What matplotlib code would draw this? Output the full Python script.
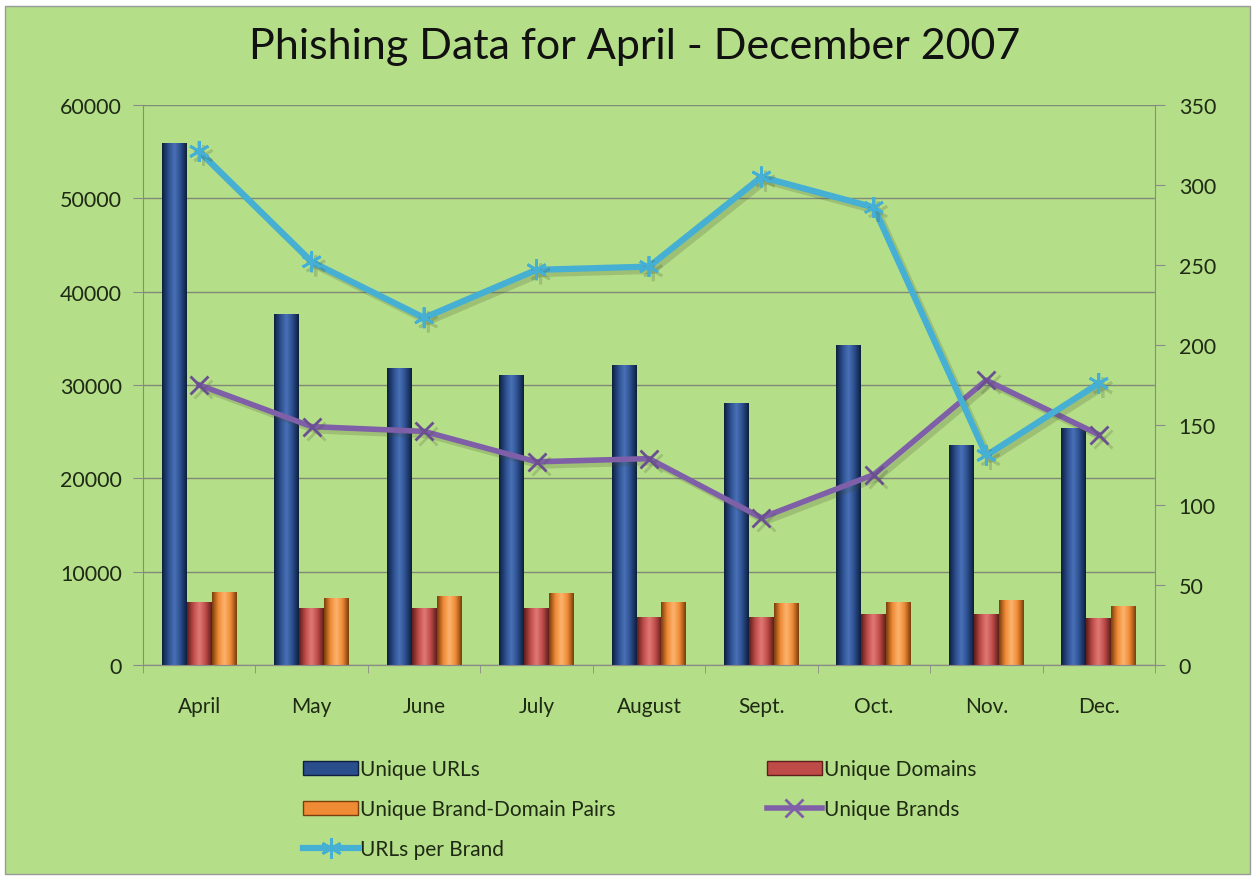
import numpy as np
import matplotlib.pyplot as plt
import matplotlib.patheffects as pe
from matplotlib.colors import LinearSegmentedColormap
from matplotlib.patches import Rectangle, Patch
from matplotlib.lines import Line2D

plt.rcParams['font.family'] = ['Lato', 'DejaVu Sans']

# Monthly phishing figures
months = ['April', 'May', 'June', 'July', 'August', 'Sept.', 'Oct.', 'Nov.', 'Dec.']
unique_urls = [55900, 37600, 31800, 31100, 32100, 28100, 34300, 23600, 25400]
unique_domains = [6750, 6100, 6100, 6100, 5150, 5150, 5450, 5450, 5050]
brand_domain_pairs = [7800, 7200, 7400, 7700, 6750, 6650, 6750, 6950, 6300]
unique_brands = [175, 149, 146, 127, 129, 92, 119, 178, 144]
urls_per_brand = [321, 252, 217, 247, 249, 305, 286, 131, 176]

bg = '#b5de88'
grid_col = '#7f8a78'

fig = plt.figure(figsize=(12.55, 8.79), dpi=100)
fig.patch.set_facecolor('white')
fig.patches.append(Rectangle((5 / 1255, 4 / 879), 1245 / 1255, 868 / 879,
                             transform=fig.transFigure, facecolor=bg,
                             edgecolor='#9a9a9a', linewidth=1, zorder=-10))

ax = fig.add_axes([143 / 1255, 1 - 666 / 879, 1012 / 1255, 560 / 879])
ax.set_facecolor(bg)
ax2 = ax.twinx()

x = np.arange(len(months))
w = 0.222


def bevel_bars(axis, xpos, vals, dark, base, light):
    bars = axis.bar(xpos, vals, w, color=base, edgecolor='none', zorder=2)
    cmap = LinearSegmentedColormap.from_list('bev', [dark, base, light, base, dark])
    grad = np.linspace(0, 1, 64).reshape(1, -1)
    for b in bars:
        x0, y0 = b.get_x(), b.get_y()
        im = axis.imshow(grad, cmap=cmap, extent=[x0, x0 + b.get_width(), y0, y0 + b.get_height()],
                         aspect='auto', zorder=3, interpolation='bicubic')
        im.set_clip_path(b)
    return bars


bevel_bars(ax, x - w, unique_urls, '#0f1f3d', '#2a4d8c', '#4a72b8')
bevel_bars(ax, x, unique_domains, '#5e1e1c', '#bf4b48', '#e07a76')
bevel_bars(ax, x + w, brand_domain_pairs, '#7a3e0c', '#ef8a35', '#fbb46e')

ax.set_xlim(-0.5, len(months) - 0.5)
ax.set_ylim(0, 60000)
ax.set_yticks(np.arange(0, 60001, 10000))
ax.yaxis.grid(True, color=grid_col, linewidth=1)
ax.set_axisbelow(True)
ax.set_xticks(x)
ax.set_xticklabels(months)
ax.set_xticks(np.arange(-0.5, len(months) + 0.5, 1), minor=True)
ax.tick_params(axis='x', which='major', length=0, pad=22, labelsize=15, labelcolor='#1e2a14')
ax.tick_params(axis='x', which='minor', length=6, color='#8a8a8a')
ax.tick_params(axis='y', length=7, color='#8a8a8a', labelsize=15.5, labelcolor='#1e2a14', pad=8)

shadow = [pe.SimpleLineShadow(offset=(3, -3), alpha=0.2, shadow_color='#3d4a2a'), pe.Normal()]
ax2.plot(x, unique_brands, color='#7f5fa8', linewidth=4, marker='x', markersize=13,
         markeredgewidth=2, markeredgecolor='#6a5090', zorder=5, path_effects=shadow)
ax2.plot(x, urls_per_brand, color='#45b0d3', linewidth=4.5, marker=(6, 2, 0), markersize=15,
         markeredgewidth=2, markeredgecolor='#45b0d3', zorder=6, path_effects=shadow)
ax2.set_ylim(0, 350)
ax2.set_yticks(np.arange(0, 351, 50))
ax2.tick_params(axis='y', length=7, color='#8a8a8a', labelsize=15.5, labelcolor='#1e2a14', pad=10)

for a in (ax, ax2):
    a.spines['top'].set_visible(False)
    a.spines['left'].set_color('#8a8a8a')
    a.spines['right'].set_color('#8a8a8a')
    a.spines['bottom'].set_color('#8a8a8a')
ax.spines['right'].set_visible(False)
ax2.spines['left'].set_visible(False)

fig.text(0.506, 1 - 47 / 879, 'Phishing Data for April - December 2007', ha='center', va='center',
         fontsize=31, color='#111111')

handles = [
    Patch(facecolor='#2a4d8c', edgecolor='#0f1f3d', label='Unique URLs'),
    Patch(facecolor='#ef8a35', edgecolor='#7a3e0c', label='Unique Brand-Domain Pairs'),
    Line2D([], [], color='#45b0d3', linewidth=4.5, marker=(6, 2, 0), markersize=15,
           markeredgewidth=2, label='URLs per Brand'),
    Patch(facecolor='#bf4b48', edgecolor='#5e1e1c', label='Unique Domains'),
    Line2D([], [], color='#7f5fa8', linewidth=4, marker='x', markersize=13,
           markeredgewidth=2, label='Unique Brands'),
]
fig.legend(handles=handles, ncol=2, loc='upper left', bbox_to_anchor=(293 / 1255, 1 - 750 / 879),
           frameon=False, fontsize=15, handlelength=2.6, handleheight=0.7, handletextpad=0.1,
           columnspacing=7.3, labelspacing=0.95, borderpad=0, labelcolor='#1e2a14')

fig.savefig('out.png', dpi=100, facecolor=fig.get_facecolor())
